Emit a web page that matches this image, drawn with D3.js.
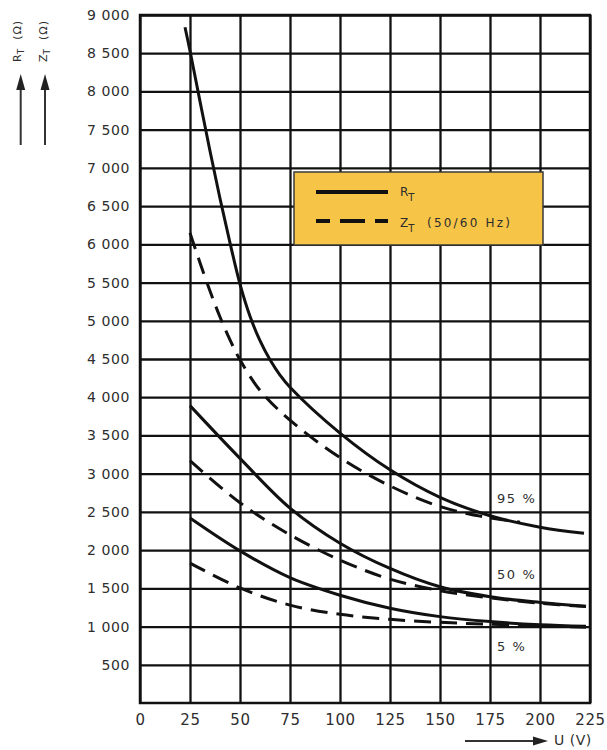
<!DOCTYPE html>
<html><head><meta charset="utf-8">
<script src="https://cdn.jsdelivr.net/npm/d3@7"></script>
<style>body{margin:0;background:#fff}</style>
</head><body>
<svg id="c" width="607" height="750"></svg>
<script>
// ---- data ----
const voltageTicks = [0, 25, 50, 75, 100, 125, 150, 175, 200, 225];
const resistanceTicks = [500, 1000, 1500, 2000, 2500, 3000, 3500, 4000, 4500, 5000, 5500, 6000, 6500, 7000, 7500, 8000, 8500, 9000];

const uRT95 = [22.5, 25, 30, 35, 40, 45, 50, 55, 60, 65, 70, 75, 100, 125, 150, 175, 200, 222];
const rt95  = [8840, 8530, 7870, 7220, 6600, 6020, 5480, 5060, 4740, 4490, 4290, 4130, 3530, 3050, 2690, 2450, 2300, 2220];
const uZT95 = [25, 30, 35, 40, 45, 50, 60, 75, 100, 125, 150, 170, 190];
const zt95  = [6150, 5760, 5390, 5050, 4750, 4490, 4090, 3700, 3210, 2840, 2570, 2445, 2365];

const uStd = [25, 50, 75, 100, 125, 150, 175, 200, 223];
const rt50 = [3890, 3200, 2550, 2090, 1760, 1520, 1390, 1315, 1265];
const zt50 = [3170, 2620, 2200, 1870, 1620, 1470, 1375, 1305, 1262];
const rt5  = [2420, 1990, 1640, 1410, 1240, 1130, 1065, 1025, 1005];
const zt5  = [1830, 1505, 1280, 1160, 1095, 1055, 1030, 1008, 990];

const curveLabels = ["95 %", "50 %", "5 %"];
const curveLabelPos = [[175, 2500], [175, 1500], [175, 560]];

// ---- drawing ----
const svg = d3.select("#c");
svg.append("rect").attr("width", 607).attr("height", 750).attr("fill", "#fff");

const x = d3.scaleLinear().domain([0, 225]).range([140, 590]);
const y = d3.scaleLinear().domain([0, 9000]).range([703, 15]);
const ink = "#111";
const txt = "#2e2e2e";
const font = "'DejaVu Sans', sans-serif";

const fmt = d => d >= 1000 ? Math.floor(d / 1000) + " " + String(d % 1000).padStart(3, "0") : String(d);

const gx = svg.append("g").attr("transform", "translate(0,703)")
  .call(d3.axisBottom(x).tickValues(voltageTicks).tickSize(-(703 - 15)).tickPadding(11));
const gy = svg.append("g").attr("transform", "translate(140,0)")
  .call(d3.axisLeft(y).tickValues(resistanceTicks).tickSize(-(590 - 140)).tickPadding(10).tickFormat(fmt));
[gx, gy].forEach(g => {
  g.select(".domain").remove();
  g.selectAll(".tick line").attr("stroke", ink).attr("stroke-width", 2.3);
  g.selectAll(".tick text").attr("fill", txt).attr("font-family", font)
    .attr("font-size", 14).attr("letter-spacing", 0.6);
});
gx.selectAll(".tick text").attr("font-size", 15);

// border
svg.append("rect").attr("x", 140).attr("y", 15).attr("width", 450).attr("height", 688)
  .attr("fill", "none").attr("stroke", ink).attr("stroke-width", 2.5);

// curves
const line = d3.line().x(d => x(d[0])).y(d => y(d[1])).curve(d3.curveCatmullRom.alpha(0.5));
const series = [
  [uRT95, rt95, false], [uZT95, zt95, true],
  [uStd, rt50, false], [uStd, zt50, true],
  [uStd, rt5, false], [uStd, zt5, true]
];
series.forEach(([us, vs, dashed]) => {
  svg.append("path").datum(us.map((u, i) => [u, vs[i]]))
    .attr("d", line).attr("fill", "none").attr("stroke", ink)
    .attr("stroke-width", 3).attr("stroke-dasharray", dashed ? "17,9" : null);
});

// curve labels
curveLabels.forEach((t, i) => {
  const [u, v] = curveLabelPos[i];
  svg.append("text").attr("x", x(u) + 7).attr("y", y(v) - 9).text(t)
    .attr("font-family", font).attr("font-size", 13).attr("letter-spacing", 1.6).attr("fill", txt);
});

// legend
svg.append("rect").attr("x", 294).attr("y", 172).attr("width", 249).attr("height", 73)
  .attr("fill", "#F6C446").attr("stroke", "#3a3a3a").attr("stroke-width", 1.5);
svg.append("line").attr("x1", 316).attr("x2", 388).attr("y1", 192).attr("y2", 192)
  .attr("stroke", ink).attr("stroke-width", 4);
svg.append("line").attr("x1", 316).attr("x2", 388).attr("y1", 221).attr("y2", 221)
  .attr("stroke", ink).attr("stroke-width", 4).attr("stroke-dasharray", "14,10,25,10,13");
const l1 = svg.append("text").attr("x", 400).attr("y", 196).attr("font-family", font)
  .attr("font-size", 12).attr("fill", txt);
l1.append("tspan").text("R");
l1.append("tspan").text("T").attr("dy", 5).attr("font-size", 10);
const l2 = svg.append("text").attr("x", 400).attr("y", 227).attr("font-family", font)
  .attr("font-size", 12).attr("fill", txt);
l2.append("tspan").text("Z");
l2.append("tspan").text("T").attr("dy", 5).attr("font-size", 10);
l2.append("tspan").text("(50/60 Hz)").attr("x", 427).attr("dy", -5).attr("letter-spacing", 2.2);

// y-axis titles with arrows
function upArrow(cx) {
  svg.append("line").attr("x1", cx).attr("x2", cx).attr("y1", 145).attr("y2", 86)
    .attr("stroke", "#333").attr("stroke-width", 2);
  svg.append("path").attr("d", `M${cx},74 L${cx - 4.5},90 L${cx + 4.5},90 Z`).attr("fill", "#222");
}
upArrow(20.7);
upArrow(45);
function vTitle(bx, letter) {
  const t = svg.append("text").attr("transform", `translate(${bx},62) rotate(-90)`)
    .attr("font-family", font).attr("font-size", 11).attr("fill", txt);
  t.append("tspan").text(letter);
  t.append("tspan").text("T").attr("dy", 3).attr("font-size", 9);
  t.append("tspan").text("(Ω)").attr("dx", 9).attr("dy", -3).attr("letter-spacing", 1);
}
vTitle(20.7, "R");
vTitle(47, "Z");

// x-axis title with arrow
svg.append("line").attr("x1", 465).attr("x2", 537).attr("y1", 741).attr("y2", 741)
  .attr("stroke", "#333").attr("stroke-width", 2);
svg.append("path").attr("d", "M548,741 L533,736.5 L533,745.5 Z").attr("fill", "#222");
svg.append("text").attr("x", 554).attr("y", 745).text("U (V)")
  .attr("font-family", font).attr("font-size", 14).attr("letter-spacing", 0.5).attr("fill", txt);
</script>
</body></html>
